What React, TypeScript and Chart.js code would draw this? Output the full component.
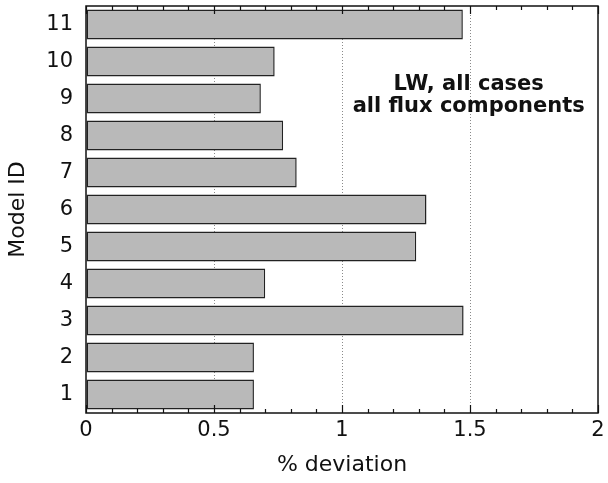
import React, { useEffect, useRef } from "react";
import { Chart, registerables } from "chart.js";

Chart.register(...registerables);

const modelIds = ["1", "2", "3", "4", "5", "6", "7", "8", "9", "10", "11"];
const deviation = [0.656, 0.656, 1.475, 0.70, 1.29, 1.33, 0.823, 0.77, 0.683, 0.737, 1.472];
const xTickValues = [0, 0.5, 1, 1.5, 2];
const minorStep = 0.1;
const annotationLines = ["LW, all cases", "all flux components"];
const xTitle = "% deviation";
const yTitle = "Model ID";

const FONT = "'DejaVu Sans', 'Liberation Sans', Arial, sans-serif";

const framePlugin = {
  id: "frame",
  afterDatasetsDraw(chart: any) {
    const { ctx, chartArea: a, scales } = chart;
    const xs = scales.x;
    const ys = scales.y;
    ctx.save();
    // annotation text (y given as category index: between "9" and "10")
    ctx.fillStyle = "#111";
    ctx.font = `bold 21px ${FONT}`;
    ctx.textAlign = "center";
    ctx.textBaseline = "middle";
    const cx = xs.getPixelForValue(1.495);
    const y0 = ys.getPixelForValue(8.365);
    ctx.fillText(annotationLines[0], cx, y0);
    ctx.fillText(annotationLines[1], cx, y0 + 22);
    // frame
    ctx.strokeStyle = "#111";
    ctx.lineWidth = 1.5;
    ctx.strokeRect(a.left, a.top, a.right - a.left, a.bottom - a.top);
    // tick marks on x (bottom and top), inward
    ctx.lineWidth = 1.2;
    const min = xTickValues[0];
    const max = xTickValues[xTickValues.length - 1];
    const n = Math.round((max - min) / minorStep);
    for (let i = 0; i <= n; i++) {
      const v = min + i * minorStep;
      const isMajor = xTickValues.some((t) => Math.abs(t - v) < 1e-6);
      const len = isMajor ? 8 : 4;
      const px = Math.round(xs.getPixelForValue(v)) + 0.5;
      ctx.beginPath();
      ctx.moveTo(px, a.bottom);
      ctx.lineTo(px, a.bottom - len);
      ctx.moveTo(px, a.top);
      ctx.lineTo(px, a.top + len);
      ctx.stroke();
    }
    ctx.restore();
  },
};

export default function App() {
  const ref = useRef<HTMLCanvasElement | null>(null);
  useEffect(() => {
    if (!ref.current) return;
    const chart = new Chart(ref.current, {
      type: "bar",
      data: {
        labels: modelIds,
        datasets: [
          {
            data: deviation,
            backgroundColor: "#b9b9b9",
            borderColor: "#222222",
            borderWidth: 1.5,
            borderSkipped: false,
            barPercentage: 0.81,
            categoryPercentage: 1,
          },
        ],
      },
      options: {
        indexAxis: "y",
        animation: false,
        responsive: false,
        maintainAspectRatio: false,
        layout: { padding: { left: 0, right: 10, top: 6, bottom: 0 } },
        plugins: {
          legend: { display: false },
          tooltip: { enabled: false },
        },
        scales: {
          x: {
            type: "linear",
            min: 0,
            max: 2,
            afterBuildTicks: (s: any) => {
              s.ticks = xTickValues.map((v) => ({ value: v }));
            },
            afterFit: (s: any) => {
              s.height = 70;
              s.paddingLeft = 0;
              s.paddingRight = 0;
            },
            ticks: {
              color: "#111",
              font: { family: FONT, size: 21 },
              padding: 5,
              maxRotation: 0,
              callback: (v: any) => String(Number(v)),
            },
            grid: {
              drawTicks: false,
              color: (c: any) =>
                c.tick && (c.tick.value === 0 || c.tick.value === 2) ? "rgba(0,0,0,0)" : "#8a8a8a",
              lineWidth: 1,
            },
            border: { display: false, dash: [1, 2] },
            title: {
              display: true,
              text: xTitle,
              color: "#111",
              font: { family: FONT, size: 22 },
              padding: { top: 0, bottom: 5 },
            },
          },
          y: {
            type: "category",
            reverse: true,
            afterFit: (s: any) => {
              s.width = 86;
              s.paddingTop = 0;
              s.paddingBottom = 0;
            },
            ticks: {
              color: "#111",
              font: { family: FONT, size: 21 },
              padding: 13,
            },
            grid: { display: false, drawTicks: false },
            border: { display: false },
            title: {
              display: true,
              text: yTitle,
              color: "#111",
              font: { family: FONT, size: 22 },
              padding: { top: 5, bottom: 0 },
            },
          },
        },
      },
      plugins: [framePlugin],
    } as any);
    return () => chart.destroy();
  }, []);
  return (
    <div style={{ position: "fixed", left: 0, top: 0, width: 608, height: 483, background: "#fff" }}>
      <canvas ref={ref} width={608} height={483} style={{ display: "block", width: 608, height: 483 }} />
    </div>
  );
}
